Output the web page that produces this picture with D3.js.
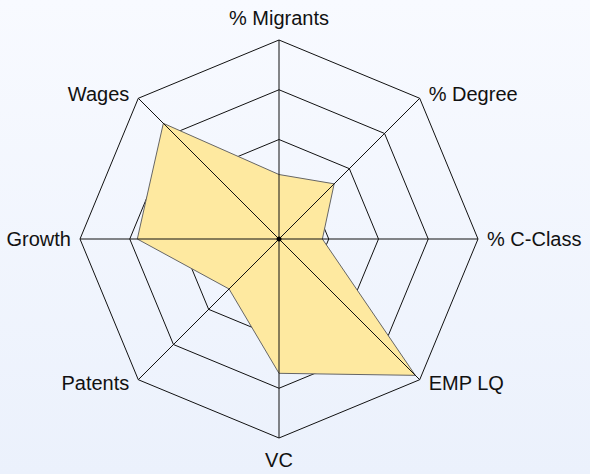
<!DOCTYPE html>
<html>
<head>
<meta charset="utf-8">
<script src="https://cdn.jsdelivr.net/npm/d3@7/dist/d3.min.js"></script>
<style>
  html, body { margin: 0; padding: 0; }
  body { width: 590px; height: 474px; overflow: hidden; }
  text { font-family: "Liberation Sans", Arial, sans-serif; }
</style>
</head>
<body>
<script>
// Radar chart: one profile across eight indicators (0–100 scale)
const axes = ["% Migrants", "% Degree", "% C-Class", "EMP LQ", "VC", "Patents", "Growth", "Wages"];
const values = [32.4, 39.2, 21.8, 96.9, 67.5, 35.5, 71.2, 82.2];
const ringLevels = [25, 50, 75, 100];

const width = 590, height = 474;
const cx = 279, cy = 239, R = 199;

const svg = d3.select("body").append("svg")
  .attr("width", width).attr("height", height);

// soft vertical background gradient
const defs = svg.append("defs");
const grad = defs.append("linearGradient").attr("id", "bg")
  .attr("x1", 0).attr("y1", 0).attr("x2", 0).attr("y2", 1);
grad.append("stop").attr("offset", "0%").attr("stop-color", "#f8faff");
grad.append("stop").attr("offset", "100%").attr("stop-color", "#ebf1fc");
svg.append("rect").attr("width", width).attr("height", height).attr("fill", "url(#bg)");

const r = d3.scaleLinear().domain([0, 100]).range([0, R]);
const angle = d3.scaleLinear().domain([0, axes.length]).range([0, 2 * Math.PI]);

const g = svg.append("g").attr("transform", `translate(${cx},${cy})`);

const pt = (i, v) => [Math.sin(angle(i)) * r(v), -Math.cos(angle(i)) * r(v)];

const radial = d3.lineRadial()
  .angle((d, i) => angle(i))
  .radius(d => r(d))
  .curve(d3.curveLinearClosed);

// concentric octagon rings (under the data polygon)
g.selectAll("path.ring")
  .data(ringLevels)
  .join("path")
  .attr("class", "ring")
  .attr("d", lv => radial(axes.map(() => lv)))
  .attr("fill", "none")
  .attr("stroke", "#111")
  .attr("stroke-width", 1);

// data polygon
g.append("path")
  .datum(values)
  .attr("d", radial)
  .attr("fill", "#fee9a0")
  .attr("stroke", "#666")
  .attr("stroke-width", 1)
  .attr("stroke-linejoin", "miter");

// spokes drawn on top
g.selectAll("line.spoke")
  .data(axes)
  .join("line")
  .attr("class", "spoke")
  .attr("x1", 0).attr("y1", 0)
  .attr("x2", (d, i) => pt(i, 100)[0])
  .attr("y2", (d, i) => pt(i, 100)[1])
  .attr("stroke", "#111")
  .attr("stroke-width", 1);

g.append("circle").attr("r", 2.5).attr("fill", "#000");

// axis labels just outside each outer vertex
g.selectAll("text.label")
  .data(axes)
  .join("text")
  .attr("class", "label")
  .each(function (d, i) {
    const s = Math.sin(angle(i)), c = Math.cos(angle(i));
    const [vx, vy] = pt(i, 100);
    const side = Math.abs(s) < 0.01 ? 0 : Math.sign(s);
    const anchor = side > 0 ? "start" : side < 0 ? "end" : "middle";
    const x = vx + side * 9;
    const y = vy - c * (side === 0 ? 22 : 5);
    d3.select(this)
      .attr("x", x).attr("y", y)
      .attr("dy", "0.33em")
      .attr("text-anchor", anchor);
  })
  .attr("font-size", "20px")
  .attr("fill", "#111")
  .text(d => d);
</script>
</body>
</html>
